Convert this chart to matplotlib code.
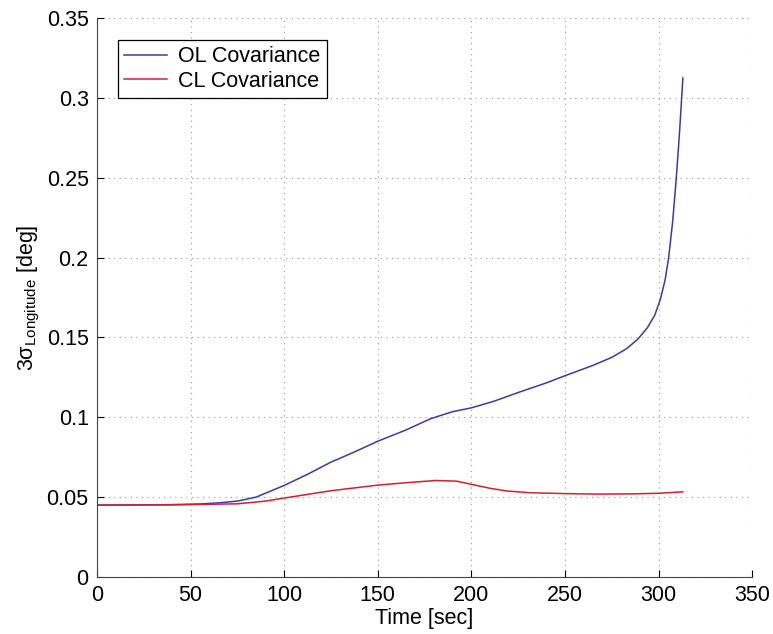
import matplotlib
matplotlib.use('Agg')
import matplotlib.pyplot as plt

# time [sec] and 3-sigma longitude covariance [deg]
t_ol = [0, 20, 40, 55, 65, 75, 85, 100, 112, 125, 137, 150, 165, 178, 190, 200,
        212, 225, 240, 250, 265, 275, 283, 289, 294, 298, 301, 303.5, 305.4,
        307.5, 309.5, 311.3, 313]
ol_cov = [0.045, 0.0451, 0.0453, 0.0457, 0.0464, 0.0475, 0.050, 0.0573, 0.064,
          0.0719, 0.078, 0.085, 0.092, 0.099, 0.1035, 0.1059, 0.110, 0.1155,
          0.1215, 0.126, 0.1325, 0.1375, 0.143, 0.149, 0.156, 0.164, 0.174,
          0.186, 0.200, 0.222, 0.250, 0.280, 0.3125]

t_cl = [0, 40, 55, 75, 90, 100, 125, 150, 165, 181, 192, 200, 210, 219, 232,
        250, 267, 285, 300, 313]
cl_cov = [0.045, 0.0451, 0.0454, 0.0458, 0.0475, 0.0494, 0.054, 0.0575, 0.059,
          0.0604, 0.0600, 0.058, 0.0555, 0.0538, 0.0527, 0.0522, 0.0519, 0.0520,
          0.0524, 0.0533]

plt.rcParams['font.family'] = ['Liberation Sans', 'DejaVu Sans']
plt.rcParams['mathtext.default'] = 'regular'

fig = plt.figure(figsize=(7.73, 6.34), dpi=100)
ax = fig.add_axes([0.1255, 0.09, 0.8475, 0.8815])

ax.plot(t_ol, ol_cov, color='#3b3ba6', lw=1.1, label='OL Covariance')
ax.plot(t_cl, cl_cov, color='#d42030', lw=1.1, label='CL Covariance')

ax.set_xlim(0, 350)
ax.set_ylim(0, 0.35)
ax.set_xticks(range(0, 351, 50))
ax.set_yticks([0, 0.05, 0.1, 0.15, 0.2, 0.25, 0.3, 0.35])
ax.set_yticklabels(['0', '0.05', '0.1', '0.15', '0.2', '0.25', '0.3', '0.35'])
ax.tick_params(direction='in', labelsize=15.5, length=5, pad=6,
               top=False, right=False)
ax.grid(True, linestyle=(0, (1, 4)), color='#999999', lw=0.8)
ax.spines['top'].set_visible(False)
ax.spines['right'].set_visible(False)
for s in ['left', 'bottom']:
    ax.spines[s].set_color('#444444')

ax.set_xlabel('Time [sec]', fontsize=15.5, labelpad=1)
ax.set_ylabel(r'3$\sigma_{Longitude}$ [deg]', fontsize=15.5, labelpad=3)

leg = ax.legend(loc='upper left', bbox_to_anchor=(0.032, 0.961), fontsize=15.5,
                fancybox=False, edgecolor='black', framealpha=1,
                handlelength=2.0, handletextpad=0.5, borderpad=0.3,
                labelspacing=0.15, borderaxespad=0)
leg.get_frame().set_linewidth(0.9)

fig.savefig('out.png', dpi=100)
